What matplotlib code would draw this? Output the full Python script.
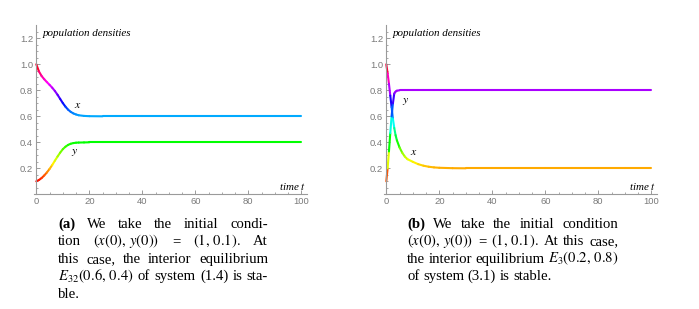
import numpy as np
import matplotlib
matplotlib.use("Agg")
import matplotlib.pyplot as plt
from matplotlib.collections import LineCollection
from matplotlib.colors import hsv_to_rgb

plt.rcParams['mathtext.fontset'] = 'stix'

# ---------------- data ----------------
tail_t = [25, 30, 40, 50, 60, 70, 80, 90, 100]

t_a = [0, 1, 2, 3, 4, 5, 6, 7, 8, 9, 10, 11, 12, 13, 14, 15, 16, 18, 20] + tail_t
x_a = [1.0, 0.945, 0.91, 0.885, 0.863, 0.842, 0.82, 0.795, 0.766, 0.734, 0.702, 0.674,
       0.651, 0.634, 0.622, 0.614, 0.608, 0.603, 0.601] + [0.6] * 9
y_a = [0.1, 0.11, 0.125, 0.145, 0.168, 0.195, 0.225, 0.258, 0.29, 0.32, 0.347, 0.366,
       0.38, 0.389, 0.394, 0.397, 0.398, 0.399, 0.4] + [0.4] * 9

t_b = [0, 0.5, 1, 1.5, 2, 2.5, 3, 3.5, 4, 5, 6, 7, 8, 10, 12, 14, 16, 18, 20] + tail_t
x_b = [1.0, 0.93, 0.85, 0.76, 0.67, 0.58, 0.51, 0.455, 0.415, 0.36, 0.32, 0.29, 0.27,
       0.25, 0.232, 0.22, 0.212, 0.207, 0.204, 0.201] + [0.2] * 8
y_b = [0.1, 0.2, 0.33, 0.47, 0.6, 0.7, 0.775, 0.79, 0.797, 0.8, 0.8, 0.8, 0.8,
       0.8, 0.8, 0.8, 0.8, 0.8, 0.8] + [0.8] * 9

x_ticks = [0, 20, 40, 60, 80, 100]
y_ticks = [0.2, 0.4, 0.6, 0.8, 1.0, 1.2]
y_tick_labels = ["0.2", "0.4", "0.6", "0.8", "1.0", "1.2"]

caption_a = [
    [("(a)", "bold"), ("We", None), ("take", None), ("the", None), ("initial", None), ("condi-", None)],
    [("tion", None), (r"$(x(0),\,y(0))$", None), ("=", None), (r"$(1,\,0.1).$", None), ("At", None)],
    [("this", None), ("case,", None), ("the", None), ("interior", None), ("equilibrium", None)],
    [(r"$E_{32}(0.6,\,0.4)$", None), ("of", None), ("system", None), ("(1.4)", None), ("is", None), ("sta-", None)],
    [("ble.", None)],
]
caption_b = [
    [("(b)", "bold"), ("We", None), ("take", None), ("the", None), ("initial", None), ("condition", None)],
    [(r"$(x(0),\,y(0))$", None), ("=", None), (r"$(1,\,0.1).$", None), ("At", None), ("this", None), ("case,", None)],
    [("the", None), ("interior", None), ("equilibrium", None), (r"$E_3(0.2,\,0.8)$", None)],
    [("of", None), ("system", None), ("(3.1)", None), ("is", None), ("stable.", None)],
]

# ---------------- figure ----------------
W, H = 699, 309
fig = plt.figure(figsize=(W / 100, H / 100), dpi=100)
fig.patch.set_facecolor("white")

VMIN, VMAX = 0.1, 1.0


def hue_colors(vals):
    h = np.clip((np.asarray(vals) - VMIN) / (VMAX - VMIN), 0, 1) % 1.0
    hsv = np.column_stack([h, np.ones_like(h), np.ones_like(h)])
    return hsv_to_rgb(hsv)


GREY = "#9a9a9a"
LBL = "#7a7a7a"


def make_axes(y0px_left):
    tpx = 2.65
    left = y0px_left - 1 * tpx
    width = 103 * tpx
    bottom = (H - 194.3) / H
    height = 1.3 * 130 / H
    ax = fig.add_axes([left / W, bottom, width / W, height])
    ax.set_xlim(-1, 102)
    ax.set_ylim(0, 1.3)
    for s in ("top", "right"):
        ax.spines[s].set_visible(False)
    ax.spines["left"].set_position(("data", 0))
    ax.spines["bottom"].set_position(("data", 0))
    for s in ("left", "bottom"):
        ax.spines[s].set_color(GREY)
        ax.spines[s].set_linewidth(0.8)
    ax.set_xticks(x_ticks)
    ax.set_xticklabels([str(v) for v in x_ticks])
    ax.set_xticks(np.arange(0, 101, 5), minor=True)
    ax.set_yticks(y_ticks)
    ax.set_yticklabels(y_tick_labels)
    ax.set_yticks(np.arange(0, 1.26, 0.05), minor=True)
    ax.tick_params(which="major", direction="in", length=3, width=0.7, color=GREY,
                   labelsize=6.8, labelcolor=LBL, pad=2.2)
    ax.tick_params(which="minor", direction="in", length=1.6, width=0.6, color=GREY)
    for lab in ax.get_xticklabels() + ax.get_yticklabels():
        lab.set_family("Liberation Sans")
    ax.patch.set_alpha(0)
    ax.text(2.4, 1.235, "population densities", style="italic", family="Liberation Serif",
            fontsize=7.9, va="center", ha="left")
    ax.text(101.8, 0.06, "time $t$", style="italic", family="Liberation Serif",
            fontsize=7.9, va="center", ha="right")
    return ax


def draw_curve(ax, t, v):
    pts = np.column_stack([t, v]).reshape(-1, 1, 2)
    segs = np.concatenate([pts[:-1], pts[1:]], axis=1)
    mids = (np.asarray(v[:-1]) + np.asarray(v[1:])) / 2
    lc = LineCollection(segs, colors=hue_colors(mids), linewidths=1.5,
                        capstyle="round", joinstyle="round")
    ax.add_collection(lc)


ax1 = make_axes(36.3)
draw_curve(ax1, t_a, x_a)
draw_curve(ax1, t_a, y_a)
ax1.text(15.6, 0.69, "$x$", fontsize=8.5, ha="center", va="center")
ax1.text(14.3, 0.33, "$y$", fontsize=8.5, ha="center", va="center")

ax2 = make_axes(386.3)
draw_curve(ax2, t_b, x_b)
draw_curve(ax2, t_b, y_b)
ax2.text(7.2, 0.725, "$y$", fontsize=8.5, ha="center", va="center")
ax2.text(10.2, 0.33, "$x$", fontsize=8.5, ha="center", va="center")

# ---------------- captions (justified) ----------------
CAP_FS = 10.6
renderer = fig.canvas.get_renderer()


def justify(lines, x0, x1, baselines):
    n = len(lines)
    for i, (words, yb) in enumerate(zip(lines, baselines)):
        txts = []
        for w, wt in words:
            tt = fig.text(0, 1 - yb / H, w, fontsize=CAP_FS, family="Liberation Serif",
                          weight=wt if wt else "normal", va="baseline", ha="left")
            txts.append(tt)
        widths = [tt.get_window_extent(renderer).width for tt in txts]
        if i == n - 1 or len(txts) == 1:
            gap = CAP_FS * 100 / 72 * 0.25
        else:
            gap = (x1 - x0 - sum(widths)) / (len(txts) - 1)
        x = x0
        for tt, wd in zip(txts, widths):
            tt.set_x(x / W)
            x += wd + gap


justify(caption_a, 58, 268, [227.5, 245.0, 262.8, 280.3, 297.8])
justify(caption_b, 407, 618, [227.5, 245.0, 262.8, 280.3])

fig.savefig("out.png", dpi=100, facecolor="white")
